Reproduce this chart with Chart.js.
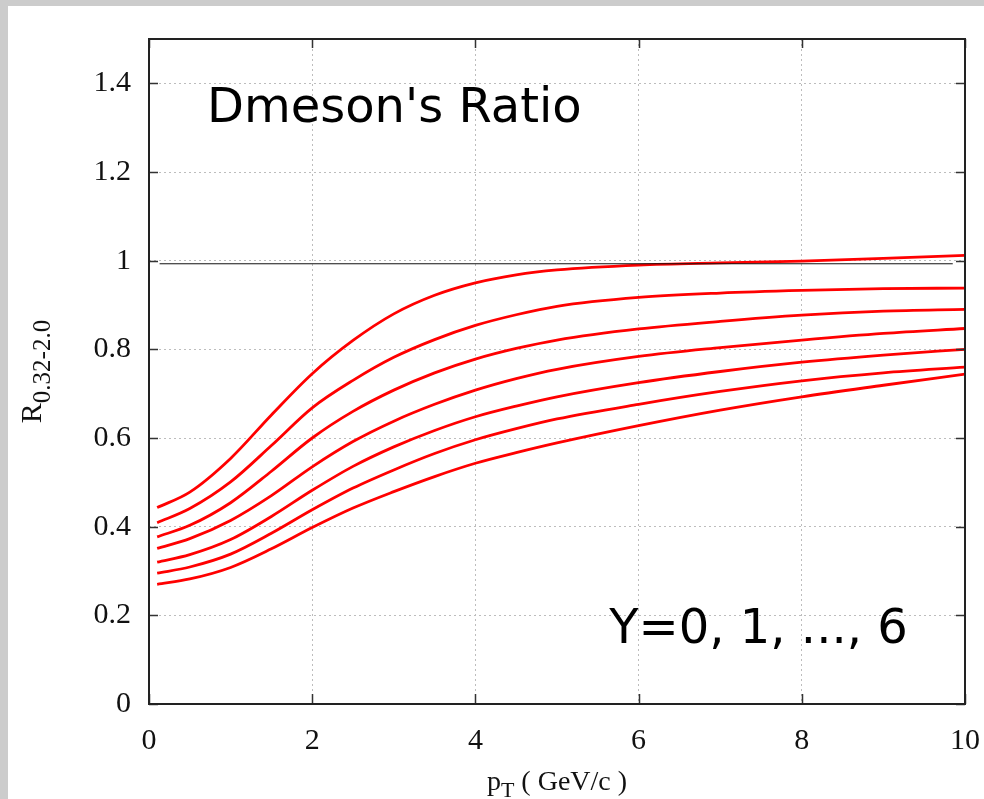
<!DOCTYPE html>
<html>
<head>
<meta charset="utf-8">
<script src="https://cdn.jsdelivr.net/npm/chart.js@4.4.0/dist/chart.umd.min.js"></script>
<style>
  html, body { margin: 0; padding: 0; background: #cccccc; }
  #frame { position: absolute; left: 8px; top: 6px; width: 976px; height: 793px; background: #fff; }
</style>
</head>
<body>
<div id="frame"><canvas id="ratio" width="976" height="793"></canvas></div>
<script>
// transverse momentum grid (GeV/c)
const pT = [0.1, 0.5, 1, 1.5, 2, 2.5, 3, 3.5, 4, 4.5, 5, 6, 7, 8, 9, 10]

// R_0.32-2.0 for rapidity Y = 0 ... 6
const ratioY0 = [0.443, 0.478, 0.554, 0.652, 0.745, 0.820, 0.880, 0.922, 0.950, 0.968, 0.979, 0.990, 0.995, 0.999, 1.005, 1.012]
const ratioY1 = [0.409, 0.441, 0.501, 0.583, 0.668, 0.730, 0.782, 0.822, 0.854, 0.878, 0.897, 0.917, 0.927, 0.933, 0.937, 0.938]
const ratioY2 = [0.377, 0.403, 0.454, 0.525, 0.600, 0.660, 0.708, 0.747, 0.778, 0.802, 0.821, 0.846, 0.863, 0.877, 0.886, 0.890]
const ratioY3 = [0.351, 0.373, 0.414, 0.470, 0.535, 0.592, 0.638, 0.676, 0.708, 0.734, 0.755, 0.784, 0.804, 0.821, 0.836, 0.847]
const ratioY4 = [0.320, 0.337, 0.371, 0.423, 0.482, 0.536, 0.580, 0.617, 0.648, 0.672, 0.693, 0.725, 0.750, 0.771, 0.787, 0.800]
const ratioY5 = [0.295, 0.309, 0.338, 0.385, 0.438, 0.487, 0.528, 0.565, 0.596, 0.621, 0.643, 0.676, 0.705, 0.729, 0.747, 0.760]
const ratioY6 = [0.270, 0.282, 0.308, 0.350, 0.398, 0.442, 0.479, 0.513, 0.543, 0.567, 0.589, 0.628, 0.663, 0.693, 0.719, 0.744]

// reference line at R ~ 1
const refX = [0.13, 9.85]
const refY = [0.993, 0.993]

const xTicks = [0, 2, 4, 6, 8, 10]
const yTicks = [0, 0.2, 0.4, 0.6, 0.8, 1, 1.2, 1.4]

const allCurves = [ratioY0, ratioY1, ratioY2, ratioY3, ratioY4, ratioY5, ratioY6]

const toPoints = (xs, ys) => xs.map((x, i) => ({ x: x, y: ys[i] }))

const serif = '"Liberation Serif", "Times New Roman", serif'
const sans = '"DejaVu Sans", sans-serif'

// gnuplot-like box, inner ticks, axis titles and labels
const decorations = {
  id: 'decorations',
  afterDraw(chart) {
    const { ctx, chartArea: a, scales: { x, y } } = chart
    ctx.save()
    ctx.strokeStyle = '#333'
    ctx.lineWidth = 1.5
    ctx.beginPath()
    yTicks.forEach(v => {
      const py = Math.round(y.getPixelForValue(v)) + 0.5
      ctx.moveTo(a.left, py); ctx.lineTo(a.left + 9, py)
      ctx.moveTo(a.right, py); ctx.lineTo(a.right - 9, py)
    })
    xTicks.forEach(v => {
      const px = Math.round(x.getPixelForValue(v)) + 0.5
      ctx.moveTo(px, a.bottom); ctx.lineTo(px, a.bottom - 10)
      ctx.moveTo(px, a.top); ctx.lineTo(px, a.top + 9)
    })
    ctx.stroke()
    ctx.lineWidth = 2
    ctx.strokeStyle = '#222'
    ctx.strokeRect(a.left, a.top, a.right - a.left, a.bottom - a.top)

    ctx.fillStyle = '#000'
    ctx.textBaseline = 'alphabetic'
    ctx.textAlign = 'left'
    ctx.font = '48px ' + sans
    ctx.fillText("Dmeson's Ratio", x.getPixelForValue(0.71), y.getPixelForValue(1.313))
    ctx.fillText('Y=0, 1, ..., 6', x.getPixelForValue(5.64), y.getPixelForValue(0.138))

    // x title: p_T ( GeV/c )
    ctx.fillStyle = '#111'
    ctx.font = '28px ' + serif
    const wp = ctx.measureText('p').width
    const wr = ctx.measureText(' ( GeV/c )').width
    ctx.font = '22px ' + serif
    const wt = ctx.measureText('T').width
    let sx = (a.left + a.right) / 2 - (wp + wt + wr) / 2
    const by = 784
    ctx.font = '28px ' + serif
    ctx.fillText('p', sx, by)
    ctx.font = '22px ' + serif
    ctx.fillText('T', sx + wp, by + 7)
    ctx.font = '28px ' + serif
    ctx.fillText(' ( GeV/c )', sx + wp + wt, by)

    // y title: R_0.32-2.0
    ctx.font = '30px ' + serif
    const wR = ctx.measureText('R').width
    ctx.font = '25px ' + serif
    const wS = ctx.measureText('0.32-2.0').width
    ctx.translate(33, (a.top + a.bottom) / 2)
    ctx.rotate(-Math.PI / 2)
    const start = -(wR + wS) / 2
    ctx.font = '30px ' + serif
    ctx.fillText('R', start, 0)
    ctx.font = '25px ' + serif
    ctx.fillText('0.32-2.0', start + wR, 9)
    ctx.restore()
  }
}

const curveSets = allCurves.map((ys, i) => ({
  label: 'Y=' + i,
  data: toPoints(pT, ys),
  borderColor: '#ff0000',
  borderWidth: 2.8,
  pointRadius: 0,
  fill: false,
  cubicInterpolationMode: 'monotone'
}))

const refSet = {
  label: 'R=1',
  data: toPoints(refX, refY),
  borderColor: '#111',
  borderWidth: 1,
  pointRadius: 0,
  fill: false
}

const config = {
  type: 'line',
  data: { datasets: [refSet, ...curveSets] },
  plugins: [decorations],
  options: {
    responsive: false,
    animation: false,
    layout: { padding: { top: 33, right: 19, left: 0, bottom: 0 } },
    plugins: { legend: { display: false }, tooltip: { enabled: false } },
    scales: {
      x: {
        type: 'linear',
        min: 0,
        max: 10,
        afterFit: s => { s.height = 95; s.paddingLeft = 0; s.paddingRight = 0 },
        ticks: {
          stepSize: 2,
          padding: 19,
          color: '#111',
          font: { family: serif, size: 30 }
        },
        grid: { color: '#bdbdbd', lineWidth: 1, drawTicks: false },
        border: { display: false, dash: [2, 3] }
      },
      y: {
        type: 'linear',
        min: 0,
        max: 1.5,
        afterFit: s => { s.width = 141; s.paddingTop = 0; s.paddingBottom = 0 },
        ticks: {
          stepSize: 0.2,
          includeBounds: false,
          padding: 18,
          color: '#111',
          font: { family: serif, size: 30 },
          callback: v => String(Math.round(v * 10) / 10)
        },
        grid: { color: '#bdbdbd', lineWidth: 1, drawTicks: false },
        border: { display: false, dash: [2, 3] }
      }
    }
  }
}

let chartRatio = new Chart(document.getElementById('ratio'), config)
</script>
</body>
</html>
